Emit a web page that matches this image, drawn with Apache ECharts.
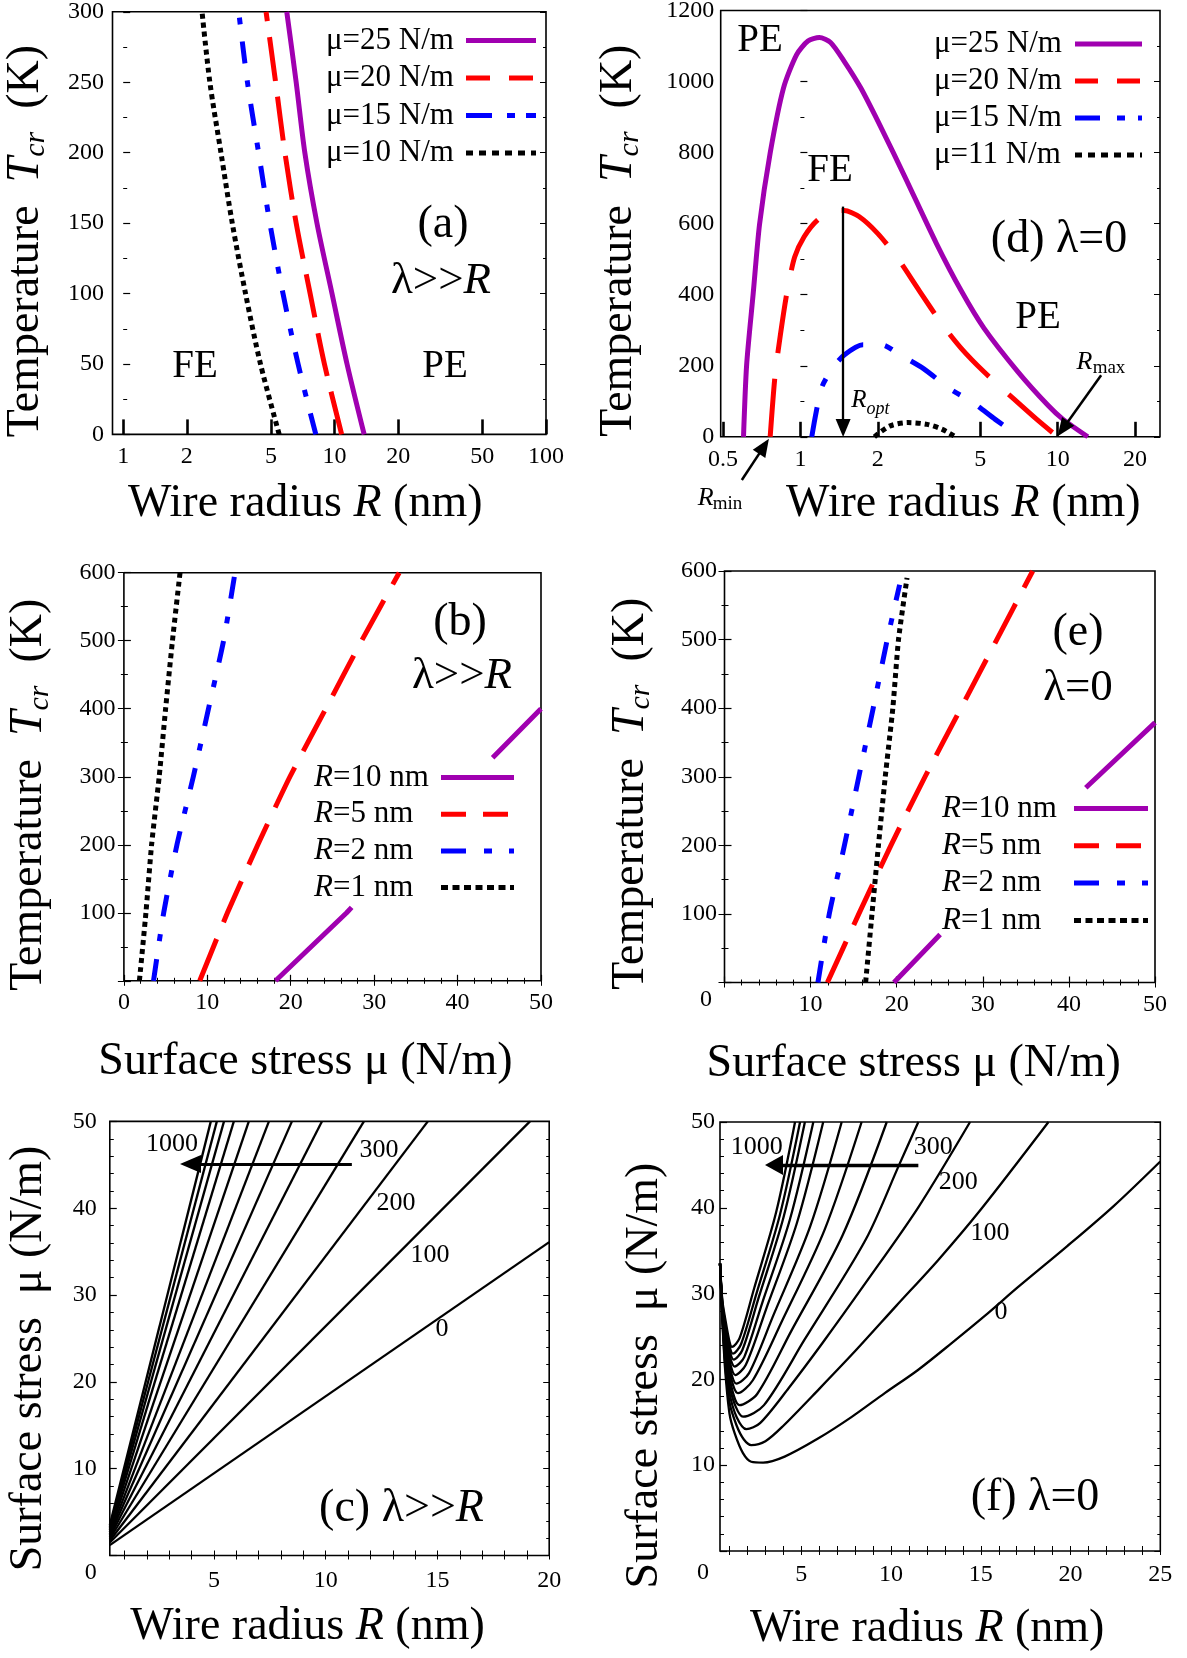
<!DOCTYPE html>
<html><head><meta charset="utf-8">
<script src="https://cdn.jsdelivr.net/npm/echarts@6/dist/echarts.min.js"></script>
<style>html,body{margin:0;padding:0;background:#fff}#chart{width:1187px;height:1658px}</style>
</head><body><div id="chart"></div>
<script>
// ---------- DATA ----------
// (a) lambda>>R : Tcr vs R for several mu
const a_T = [0, 50, 100, 150, 200, 250, 300];
const a_R_mu25 = [13.8, 11.45, 9.72, 8.25, 7.23, 6.58, 5.94];
const a_R_mu20 = [10.8, 8.95, 7.66, 6.58, 5.82, 5.26, 4.74];
const a_R_mu15 = [8.15, 6.72, 5.70, 4.94, 4.37, 3.87, 3.52];
const a_R_mu10 = [5.47, 4.46, 3.79, 3.28, 2.90, 2.57, 2.36];
const a_xTicks = [1, 2, 5, 10, 20, 50, 100];
// (d) lambda=0 : Tcr vs R
const d_mu25_R = [0.601, 0.618, 0.655, 0.694, 0.763, 0.859, 0.967, 1.07, 1.185, 1.31, 1.48, 1.72, 2.07, 2.54, 3.38, 4.22, 5.17, 7.01, 9.19, 10.5, 13.1];
const d_mu25_T = [0, 202, 401, 599, 799, 981, 1076, 1114, 1124, 1110, 1057, 981, 867, 734, 544, 411, 306, 183, 88, 49, 0];
const d_mu20_R = [0.763, 0.797, 0.836, 0.889, 0.95, 1.034, 1.165, 1.33, 1.48, 1.69, 2.00, 2.37, 2.90, 3.56, 4.22, 5.17, 6.77, 8.30, 10.0];
const d_mu20_T = [0, 173, 287, 411, 506, 563, 610, 634, 637, 620, 572, 506, 411, 316, 249, 183, 106, 49, 0];
const d_mu15_R = [1.107, 1.205, 1.33, 1.48, 1.75, 2.07, 2.45, 3.01, 3.81, 4.67, 5.72, 7.13];
const d_mu15_T = [0, 135, 192, 230, 259, 259, 230, 192, 135, 97, 49, 0];
const d_mu11_R = [1.94, 2.22, 2.62, 3.11, 3.56, 4.01];
const d_mu11_T = [0, 30, 40, 35, 21, 0];
const d_xTicks = [0.5, 1, 2, 5, 10, 20];
const d_Ropt = 1.466, d_RoptTop = 648;
const d_RmaxFrom = [14.76, 173], d_RmaxTo = [10.48, 22.5];
const d_RminFrom = [0.592, -121.7], d_RminTo = [0.722, -26.8];
// (b) lambda>>R : Tcr vs mu   (null = part hidden behind the legend)
const b_T = [0, 100, 200, 300, 400, 500, 600];
const b_mu_R1 = [1.86, 2.64, 3.32, 4.23, 5.0, 5.82, 6.73];
const b_mu_R2 = [3.55, 4.77, 6.36, 8.32, 10.14, 11.95, 13.32];
const b_mu_R5 = [9.09, 12.41, 16.05, 19.9, 24.2, 28.5, 33.0];
const b_T_R10 = [0, 100, 108, null, 328, 400];
const b_mu_R10 = [18.18, 26.7, 27.3, null, 44.2, 50.0];
// (e) lambda=0 : Tcr vs mu
const e_T_R5 = [0, 100, 200, 300, 400, 500, 600];
const e_mu_R5 = [11.95, 15.6, 19.33, 23.29, 27.46, 31.63, 35.8];
const e_T_R2 = [0, 100, 200, 300, 400, 500, 580];
const e_mu_R2 = [10.85, 12.17, 13.93, 15.6, 17.27, 18.9, 20.34];
const e_T_R1 = [0, 100, 200, 300, 400, 500, 590];
const e_mu_R1 = [16.39, 17.13, 17.88, 18.67, 19.55, 20.21, 21.2];
const e_T_R10 = [0, 70, null, 284, 379];
const e_mu_R10 = [19.68, 25.04, null, 41.96, 50];
// (c) lambda>>R : mu_cr vs R, isotherms
const c_T = [0, 100, 200, 300, 400, 500, 600, 700, 800, 900, 1000, 1100];
const c_startR = [0.34, 0.34, 0.34, 0.34, 0.34, 0.34, 0.34, 0.34, 0.34, 0.34, 0.34, 0.34];
const c_startMu = [1.2, 1.5, 1.7, 1.9, 2.1, 2.3, 2.5, 2.7, 2.9, 3.1, 3.3, 3.5];
const c_endR = [20, 19.14, 14.57, 11.71, 9.83, 8.49, 7.46, 6.56, 5.89, 5.45, 5.13, 4.86];
const c_endMu = [36.1, 50, 50, 50, 50, 50, 50, 50, 50, 50, 50, 50];
const c_xTicks = [5, 10, 15, 20];
const c_arrow = [[11.17, 45.1], [3.95, 45.1]];
// (f) lambda=0 : mu_cr vs R, isotherms  [R, mu]
const f_T0 = [[0.47,33.5],[0.6,27.0],[0.75,21.3],[1.0,16.0],[1.29,13.7],[1.75,11.4],[2.21,10.4],[2.87,10.3],[4.07,11.0],[5.93,13.1],[7.79,15.6],[9.65,18.4],[11.5,21.1],[13.36,24.2],[15.22,27.4],[17.1,30.8],[19.8,35.5],[22.4,40.2],[25,45.4]];
const f_T100 = [[0.47,33.5],[0.6,27.2],[0.75,22.0],[1.0,17.3],[1.4,14.6],[1.8,13.0],[2.21,12.35],[3.0,12.8],[4.0,14.6],[6.0,18.9],[8.0,23.3],[10.3,28.6],[12.62,33.9],[15.0,39.8],[18.77,50]];
const f_T200 = [[0.47,33.5],[0.6,27.4],[0.75,22.6],[1.0,18.4],[1.4,15.6],[1.94,14.2],[2.7,14.9],[4.3,19.0],[6.2,24.3],[8.6,31.3],[11.5,40.0],[14.4,50]];
const f_T300 = [[0.47,33.5],[0.6,27.6],[0.75,23.2],[1.0,19.3],[1.35,16.8],[1.75,15.65],[2.92,17.0],[5.17,24.6],[8.59,36.3],[10.45,45.0],[11.52,50]];
const f_T400 = [[0.47,33.5],[0.6,27.8],[0.75,23.7],[1.0,20.1],[1.56,17.0],[2.54,18.3],[4.43,25.6],[7.3,36.8],[9.76,50]];
const f_T500 = [[0.47,33.5],[0.6,28.0],[0.75,24.2],[1.0,20.9],[1.47,18.4],[2.3,19.9],[3.88,26.6],[6.29,37.4],[8.36,50]];
const f_T600 = [[0.47,33.5],[0.6,28.2],[0.75,24.7],[1.0,21.6],[1.38,19.5],[2.08,20.7],[3.43,27.4],[5.49,37.8],[7.25,50]];
const f_T700 = [[0.47,33.5],[0.6,28.4],[0.75,25.2],[1.0,22.2],[1.32,20.5],[1.91,21.7],[3.04,28.2],[4.75,38.2],[6.22,50]];
const f_T800 = [[0.47,33.5],[0.6,28.6],[0.75,25.7],[1.0,22.8],[1.29,21.5],[1.82,22.6],[2.82,28.9],[4.36,38.6],[5.67,50]];
const f_T900 = [[0.47,33.5],[0.6,28.8],[0.75,26.2],[1.0,23.4],[1.23,22.3],[1.71,23.4],[2.62,29.5],[4.01,38.9],[5.2,50]];
const f_T1000 = [[0.47,33.5],[0.6,29.0],[0.75,26.7],[1.0,23.9],[1.19,23.0],[1.64,24.1],[2.5,30.0],[3.81,39.2],[4.93,50]];
const f_T1100 = [[0.47,33.5],[0.6,29.2],[0.75,27.2],[1.0,24.4],[1.14,23.8],[1.56,24.8],[2.37,30.6],[3.6,39.5],[4.65,50]];
const f_xTicks = [5, 10, 15, 20, 25];
const f_arrow = [[11.52, 45.0], [3.48, 45.0]];

// ---------- CHART ----------
const F = 'Liberation Serif';
const L = Math.log10;
const PURPLE = '#A000B0', RED = '#FF0000', BLUE = '#0000FF', BLACK = '#000000';
const chart = echarts.init(document.getElementById('chart'), null, {width: 1187, height: 1658});
const grid = [], xAxis = [], yAxis = [], series = [], legend = [], graphic = [];

const measureCtx = document.createElement('canvas').getContext('2d');
function tw(text, italic) {
  measureCtx.font = (italic ? 'italic ' : '') + '31px "Liberation Serif"';
  return measureCtx.measureText(text).width;
}

const nameRich = {
  i: {fontFamily: F, fontSize: 46, fontStyle: 'italic', color: '#000'},
  s: {fontFamily: F, fontSize: 30, fontStyle: 'italic', color: '#000', padding: [22, 0, 0, 0]}
};
function zeroRich(padTop, padRight) {
  return {z: {fontFamily: F, fontSize: 24, color: '#000', padding: [padTop, padRight, 0, 0]}};
}
function logFmt(v) { return String(parseFloat(Math.pow(10, v).toPrecision(2))); }
function range(a, b) { const r = []; for (let i = a; i <= b; i++) r.push(i); return r; }

function panel(p) {
  const gi = grid.length;
  grid.push({left: p.box[0], top: p.box[1], width: p.box[2], height: p.box[3], show: true,
    borderColor: '#000', borderWidth: 1.6, backgroundColor: 'rgba(0,0,0,0)',
    outerBoundsMode: 'none', containLabel: false});
  const xi = xAxis.length;
  const xBase = {gridIndex: gi, type: 'value', min: p.xMin, max: p.xMax, splitLine: {show: false}, axisLine: {show: false}};
  if (p.xInterval) xBase.interval = p.xInterval;
  xAxis.push(Object.assign({}, xBase, {
    position: 'bottom',
    axisTick: Object.assign({show: true, inside: true, length: 6, lineStyle: {color: '#000', width: 1.2}}, p.xTick || {}),
    minorTick: p.xMinor || {show: false},
    axisLabel: Object.assign({show: true, fontFamily: F, fontSize: 24, color: '#000', margin: p.xLM,
      showMinLabel: true, showMaxLabel: true, formatter: v => String(v)}, p.xLabel || {}),
    name: p.xName, nameLocation: 'middle', nameGap: p.xNG, nameMoveOverlap: false,
    nameTextStyle: {fontFamily: F, fontSize: 46, color: '#000', padding: p.xNP, rich: nameRich}
  }));
  if (p.topTick) {
    xAxis.push(Object.assign({}, xBase, {
      position: 'top', axisLabel: {show: false},
      axisTick: Object.assign({show: true, inside: true, length: 5, lineStyle: {color: '#000', width: 1}}, p.topTick),
      minorTick: p.topMinor || {show: false}
    }));
  }
  const yi = yAxis.length;
  const yBase = {gridIndex: gi, type: 'value', min: p.yMin, max: p.yMax, interval: p.yInterval,
    splitLine: {show: false}, axisLine: {show: false}};
  yAxis.push(Object.assign({}, yBase, {
    position: 'left',
    axisTick: {show: true, inside: true, length: 7, lineStyle: {color: '#000', width: 1.2}},
    minorTick: {show: true, splitNumber: p.yMinorSplit, length: 4, lineStyle: {color: '#000', width: 1}},
    axisLabel: {fontFamily: F, fontSize: 24, color: '#000', margin: p.yLM, showMinLabel: true, showMaxLabel: true,
      formatter: p.yFmt || (v => String(v)), rich: p.yRich},
    name: p.yName, nameLocation: 'middle', nameGap: p.yNG, nameMoveOverlap: false,
    nameTextStyle: {fontFamily: F, fontSize: 46, color: '#000', padding: p.yNP, rich: nameRich}
  }));
  yAxis.push(Object.assign({}, yBase, {
    position: 'right', axisLabel: {show: false},
    axisTick: {show: true, inside: true, length: 6, lineStyle: {color: '#000', width: 1}},
    minorTick: {show: true, splitNumber: p.yMinorSplit, length: 3, lineStyle: {color: '#000', width: 1}}
  }));
  return {gi, xi, yi};
}

function line(ax, name, data, style, extra) {
  series.push(Object.assign({
    type: 'line', name: name, xAxisIndex: ax.xi, yAxisIndex: ax.yi, data: data,
    symbol: 'none', showSymbol: false, silent: true, animation: false, z: 3, connectNulls: false,
    color: style.color, itemStyle: {color: style.color},
    lineStyle: Object.assign({cap: 'butt', join: 'round'}, style)
  }, extra || {}));
}
function arrow(ax, id, from, to, w, size) {
  series.push({
    type: 'line', id: id, name: id, xAxisIndex: ax.xi, yAxisIndex: ax.yi, data: [],
    clip: false, silent: true, animation: false, z: 6,
    markLine: {silent: true, animation: false, symbol: ['none', 'triangle'], symbolSize: size,
      label: {show: false}, emphasis: {disabled: true},
      lineStyle: {color: '#000', width: w, type: 'solid', opacity: 1}, itemStyle: {color: '#000'},
      data: from ? [[{coord: from}, {coord: to}]] : []}
  });
}
// legend: text column of fixed width (textW) then the line sample
function leg(p) {
  const rich = {i: {fontFamily: F, fontSize: 31, fontStyle: 'italic', color: '#000', lineHeight: 31}};
  const keyOf = {};
  p.items.forEach((it, k) => {
    const label = it.name.slice(2);
    const italicR = label.charAt(0) === 'R';
    const rest = italicR ? label.slice(1) : label;
    const used = (italicR ? tw('R', true) : 0) + tw(rest, false);
    rich['t' + k] = {fontFamily: F, fontSize: 31, color: '#000', lineHeight: 31,
      padding: [0, Math.max(0, p.textW - used), 0, 0]};
    keyOf[it.name] = {k: k, italicR: italicR, rest: rest};
  });
  legend.push({orient: 'vertical', left: p.left, top: p.top, align: 'right', itemWidth: p.iw, itemHeight: 14,
    itemGap: p.gap, padding: 0, backgroundColor: 'rgba(0,0,0,0)', selectedMode: false, z: 5,
    itemStyle: {opacity: 0, borderWidth: 0},
    data: p.items.map(it => Object.assign({itemStyle: {opacity: 0, borderWidth: 0}}, it)),
    formatter: n => { const o = keyOf[n]; return (o.italicR ? '{i|R}' : '') + '{t' + o.k + '|' + o.rest + '}'; },
    textStyle: {fontFamily: F, fontSize: 31, color: '#000', lineHeight: 31, rich: rich}});
}
function gt(x, y, text, size, extra) {
  graphic.push({type: 'text', x: x, y: y, z: 100, silent: true,
    style: Object.assign({text: text, fontFamily: F, fontSize: size, fill: '#000',
      align: 'center', verticalAlign: 'middle', textAlign: 'center', textVerticalAlign: 'middle'}, extra || {})});
}
function richIt(size) {
  return {n: {fontFamily: F, fontSize: size, fill: '#000'}, i: {fontFamily: F, fontSize: size, fontStyle: 'italic', fill: '#000'}};
}

const tempName = 'Temperature  {i|T}{s|cr}  (K)';
const radName = 'Wire radius {i|R} (nm)';

// ---- panel (a)
const A = panel({box: [112.5, 11.8, 433.5, 422.6], xMin: L(0.89), xMax: 2,
  xTick: {customValues: a_xTicks.map(L), length: 15, lineStyle: {color: '#000', width: 2.6}},
  xLabel: {customValues: a_xTicks.map(L), formatter: logFmt}, xLM: 10,
  xName: radName, xNG: 47, xNP: [0, 48, 0, 0],
  yMin: 0, yMax: 300, yInterval: 50, yMinorSplit: 2, yLM: 8.5,
  yName: tempName, yNG: 61, yNP: [0, 36, 0, 0]});
const mk = (Rs, Ts) => Rs.map((r, i) => [L(r), Ts[i]]);
line(A, 'a:μ=25 N/m', mk(a_R_mu25, a_T), {color: PURPLE, width: 5, type: 'solid'}, {smooth: 0.3});
line(A, 'a:μ=20 N/m', mk(a_R_mu20, a_T), {color: RED, width: 5, type: [44, 16]}, {smooth: 0.3});
line(A, 'a:μ=15 N/m', mk(a_R_mu15, a_T), {color: BLUE, width: 5, type: [22, 17, 7, 17]}, {smooth: 0.3});
line(A, 'a:μ=10 N/m', mk(a_R_mu10, a_T), {color: BLACK, width: 5, type: [5, 4]}, {smooth: 0.3});
leg({left: 326, top: 25, iw: 70, gap: 6.5, textW: 135,
  items: [{name: 'a:μ=25 N/m', lineStyle: {width: 5, type: 'solid'}},
          {name: 'a:μ=20 N/m', lineStyle: {width: 5, type: [24, 19]}},
          {name: 'a:μ=15 N/m', lineStyle: {width: 5, type: [26, 15, 8, 11]}},
          {name: 'a:μ=10 N/m', lineStyle: {width: 5, type: [7, 6]}}]});
gt(195, 367, 'FE', 39); gt(445, 367, 'PE', 39);
gt(443, 225, '(a)', 46);
gt(441, 281, '{n|λ>>}{i|R}', 45, {rich: richIt(45)});

// ---- panel (d)
const D = panel({box: [720.7, 10.5, 439.3, 426.3], xMin: L(0.49), xMax: L(25),
  xTick: {customValues: d_xTicks.map(L), length: 15, lineStyle: {color: '#000', width: 2.6}},
  xLabel: {customValues: d_xTicks.map(L), formatter: logFmt}, xLM: 11,
  xName: radName, xNG: 44, xNP: [0, 0, 0, 46],
  yMin: 0, yMax: 1200, yInterval: 200, yMinorSplit: 2, yLM: 6.5,
  yName: tempName, yNG: 76, yNP: [0, 34, 0, 0]});
line(D, 'd:μ=25 N/m', mk(d_mu25_R, d_mu25_T), {color: PURPLE, width: 5, type: 'solid'}, {smooth: 0.25});
line(D, 'd:μ=20 N/m', mk(d_mu20_R, d_mu20_T), {color: RED, width: 5, type: [58, 26]}, {smooth: 0.25});
line(D, 'd:μ=15 N/m', mk(d_mu15_R, d_mu15_T), {color: BLUE, width: 5, type: [30, 22, 8, 22]}, {smooth: 0.25});
line(D, 'd:μ=11 N/m', mk(d_mu11_R, d_mu11_T), {color: BLACK, width: 5, type: [5, 4]}, {smooth: 0.3});
leg({left: 934, top: 28.5, iw: 67, gap: 6, textW: 136,
  items: [{name: 'd:μ=25 N/m', lineStyle: {width: 5, type: 'solid'}},
          {name: 'd:μ=20 N/m', lineStyle: {width: 5, type: [23, 19]}},
          {name: 'd:μ=15 N/m', lineStyle: {width: 5, type: [25, 17, 8, 13]}},
          {name: 'd:μ=11 N/m', lineStyle: {width: 5, type: [7, 6]}}]});
arrow(D, 'ropt', [L(d_Ropt), d_RoptTop], [L(d_Ropt), 25], 2.3, [15, 18]);
arrow(D, 'rmax', [L(d_RmaxFrom[0]), d_RmaxFrom[1]], [L(d_RmaxTo[0]), d_RmaxTo[1]], 2.5, [15, 18]);
arrow(D, 'rmin', null, null, 2.5, [15, 18]);
gt(760, 41, 'PE', 39); gt(830, 171, 'FE', 39); gt(1038, 318, 'PE', 39);
gt(1059, 240, '(d) λ=0', 46);
gt(858.8, 400.6, 'R', 25, {fontStyle: 'italic'}); gt(878, 409, 'opt', 18, {fontStyle: 'italic'});
gt(1084.5, 361.7, 'R', 26, {fontStyle: 'italic'}); gt(1109, 368.5, 'max', 19);
gt(705.6, 498.6, 'R', 26, {fontStyle: 'italic'}); gt(727.5, 503.7, 'min', 19);

// ---- panel (b)
const B = panel({box: [123.9, 572.7, 417.1, 408.1], xMin: 0, xMax: 50, xInterval: 10,
  xMinor: {show: true, splitNumber: 5, length: 3, lineStyle: {color: '#000', width: 1}},
  topTick: {length: 5}, topMinor: {show: true, splitNumber: 5, length: 3, lineStyle: {color: '#000', width: 1}},
  xLM: 10, xName: 'Surface stress μ (N/m)', xNG: 58, xNP: [0, 54, 0, 0],
  yMin: 0, yMax: 600, yInterval: 100, yMinorSplit: 2, yLM: 8.5, yFmt: v => (v === 0 ? '' : String(v)),
  yName: tempName, yNG: 69, yNP: [0, 36, 0, 0]});
const mk2 = (Ms, Ts) => Ms.map((m, i) => (m === null ? ['-', '-'] : [m, Ts[i]]));
line(B, 'b:R=10 nm', mk2(b_mu_R10, b_T_R10), {color: PURPLE, width: 5, type: 'solid'});
line(B, 'b:R=5 nm', mk2(b_mu_R5, b_T), {color: RED, width: 5, type: [45, 18]}, {smooth: 0.2});
line(B, 'b:R=2 nm', mk2(b_mu_R2, b_T), {color: BLUE, width: 5, type: [22, 18, 7, 18]}, {smooth: 0.2});
line(B, 'b:R=1 nm', mk2(b_mu_R1, b_T), {color: BLACK, width: 5, type: [5, 4]}, {smooth: 0.2});
leg({left: 314, top: 762, iw: 73, gap: 5.7, textW: 122,
  items: [{name: 'b:R=10 nm', lineStyle: {width: 5, type: 'solid'}},
          {name: 'b:R=5 nm', lineStyle: {width: 5, type: [25, 17]}},
          {name: 'b:R=2 nm', lineStyle: {width: 5, type: [25, 18, 8, 17]}},
          {name: 'b:R=1 nm', lineStyle: {width: 5, type: [7, 4.5]}}]});
gt(460, 622.6, '(b)', 46);
gt(462, 676, '{n|λ>>}{i|R}', 45, {rich: richIt(45)});

// ---- panel (e)
const E = panel({box: [724.5, 571, 430.5, 411.5], xMin: 0, xMax: 50, xInterval: 10,
  xMinor: {show: true, splitNumber: 5, length: 3, lineStyle: {color: '#000', width: 1}},
  topTick: {length: 5}, topMinor: {show: true, splitNumber: 5, length: 3, lineStyle: {color: '#000', width: 1}},
  xLabel: {formatter: v => (v === 0 ? '' : String(v))},
  xLM: 10, xName: 'Surface stress μ (N/m)', xNG: 58, xNP: [0, 52, 0, 0],
  yMin: 0, yMax: 600, yInterval: 100, yMinorSplit: 2, yLM: 7.5,
  yFmt: v => (v === 0 ? '{z|0}' : String(v)), yRich: zeroRich(34, 5),
  yName: tempName, yNG: 68, yNP: [0, 34, 0, 0]});
line(E, 'e:R=10 nm', mk2(e_mu_R10, e_T_R10), {color: PURPLE, width: 5, type: 'solid'});
line(E, 'e:R=5 nm', mk2(e_mu_R5, e_T_R5), {color: RED, width: 5, type: [45, 18]}, {smooth: 0.2});
line(E, 'e:R=2 nm', mk2(e_mu_R2, e_T_R2), {color: BLUE, width: 5, type: [22, 18, 7, 18]}, {smooth: 0.2});
line(E, 'e:R=1 nm', mk2(e_mu_R1, e_T_R1), {color: BLACK, width: 5, type: [5, 4]}, {smooth: 0.2});
leg({left: 942, top: 793, iw: 74, gap: 6.3, textW: 127,
  items: [{name: 'e:R=10 nm', lineStyle: {width: 5, type: 'solid'}},
          {name: 'e:R=5 nm', lineStyle: {width: 5, type: [25, 17]}},
          {name: 'e:R=2 nm', lineStyle: {width: 5, type: [25, 18, 8, 17]}},
          {name: 'e:R=1 nm', lineStyle: {width: 5, type: [7, 4.5]}}]});
gt(1078, 633, '(e)', 46);
gt(1078, 688, 'λ=0', 45);

// ---- panel (c)
const C = panel({box: [109.8, 1121.4, 439.4, 434.1], xMin: 0.34, xMax: 20,
  xTick: {customValues: range(1, 20), length: 5, lineStyle: {color: '#000', width: 1}},
  xLabel: {customValues: c_xTicks}, topTick: {customValues: range(1, 20), length: 4},
  xLM: 13, xName: radName, xNG: 48, xNP: [0, 44, 0, 0],
  yMin: 0, yMax: 50, yInterval: 10, yMinorSplit: 5, yLM: 13,
  yFmt: v => (v === 0 ? '{z|0}' : String(v)), yRich: zeroRich(35, 0),
  yName: 'Surface stress  μ (N/m)', yNG: 58, yNP: [0, 40, 0, 0]});
c_T.forEach((t, i) => {
  line(C, 'c:T=' + t, [[c_startR[i], c_startMu[i]], [c_endR[i], c_endMu[i]]], {color: BLACK, width: 2.3, type: 'solid'});
});
arrow(C, 'carrow', c_arrow[0], c_arrow[1], 3, [18, 21]);
gt(172, 1144.5, '1000', 26); gt(379, 1150, '300', 26); gt(396, 1203, '200', 26);
gt(430, 1255, '100', 26); gt(442, 1329.5, '0', 26);
gt(401.5, 1509, '{n|(c) λ>>}{i|R}', 46, {rich: richIt(46)});

// ---- panel (f)
const Fp = panel({box: [720, 1122, 440.3, 429], xMin: 0.47, xMax: 25,
  xTick: {customValues: range(1, 25), length: 5, lineStyle: {color: '#000', width: 1}},
  xLabel: {customValues: f_xTicks}, topTick: {customValues: range(1, 25), length: 4},
  xLM: 12, xName: radName, xNG: 54.5, xNP: [0, 26, 0, 0],
  yMin: 0, yMax: 50, yInterval: 10, yMinorSplit: 5, yLM: 5,
  yFmt: v => (v === 0 ? '{z|0}' : String(v)), yRich: zeroRich(44, 6),
  yName: 'Surface stress  μ (N/m)', yNG: 52, yNP: [0, 78, 0, 0]});
const f_all = [f_T0, f_T100, f_T200, f_T300, f_T400, f_T500, f_T600, f_T700, f_T800, f_T900, f_T1000, f_T1100];
f_all.forEach((d, i) => {
  line(Fp, 'f:T=' + (i * 100), d, {color: BLACK, width: 2.3, type: 'solid'}, {smooth: 0.3});
});
arrow(Fp, 'farrow', f_arrow[0], f_arrow[1], 3.3, [20, 18]);
gt(756.7, 1146.7, '1000', 26); gt(933.3, 1146.7, '300', 26); gt(958.3, 1181.7, '200', 26);
gt(990, 1233.3, '100', 26); gt(1001, 1311.7, '0', 26);
gt(1035, 1498.3, '(f) λ=0', 46);

chart.setOption({animation: false, backgroundColor: '#ffffff', grid, xAxis, yAxis, series, legend, graphic});

// R_min arrow lies below the axis: place it through the library's own conversion
const p1 = chart.convertToPixel({gridIndex: D.gi}, [L(d_RminFrom[0]), d_RminFrom[1]]);
const p2 = chart.convertToPixel({gridIndex: D.gi}, [L(d_RminTo[0]), d_RminTo[1]]);
chart.setOption({series: [{id: 'rmin', markLine: {data: [[{x: p1[0], y: p1[1]}, {x: p2[0], y: p2[1]}]]}}]});
</script></body></html>
